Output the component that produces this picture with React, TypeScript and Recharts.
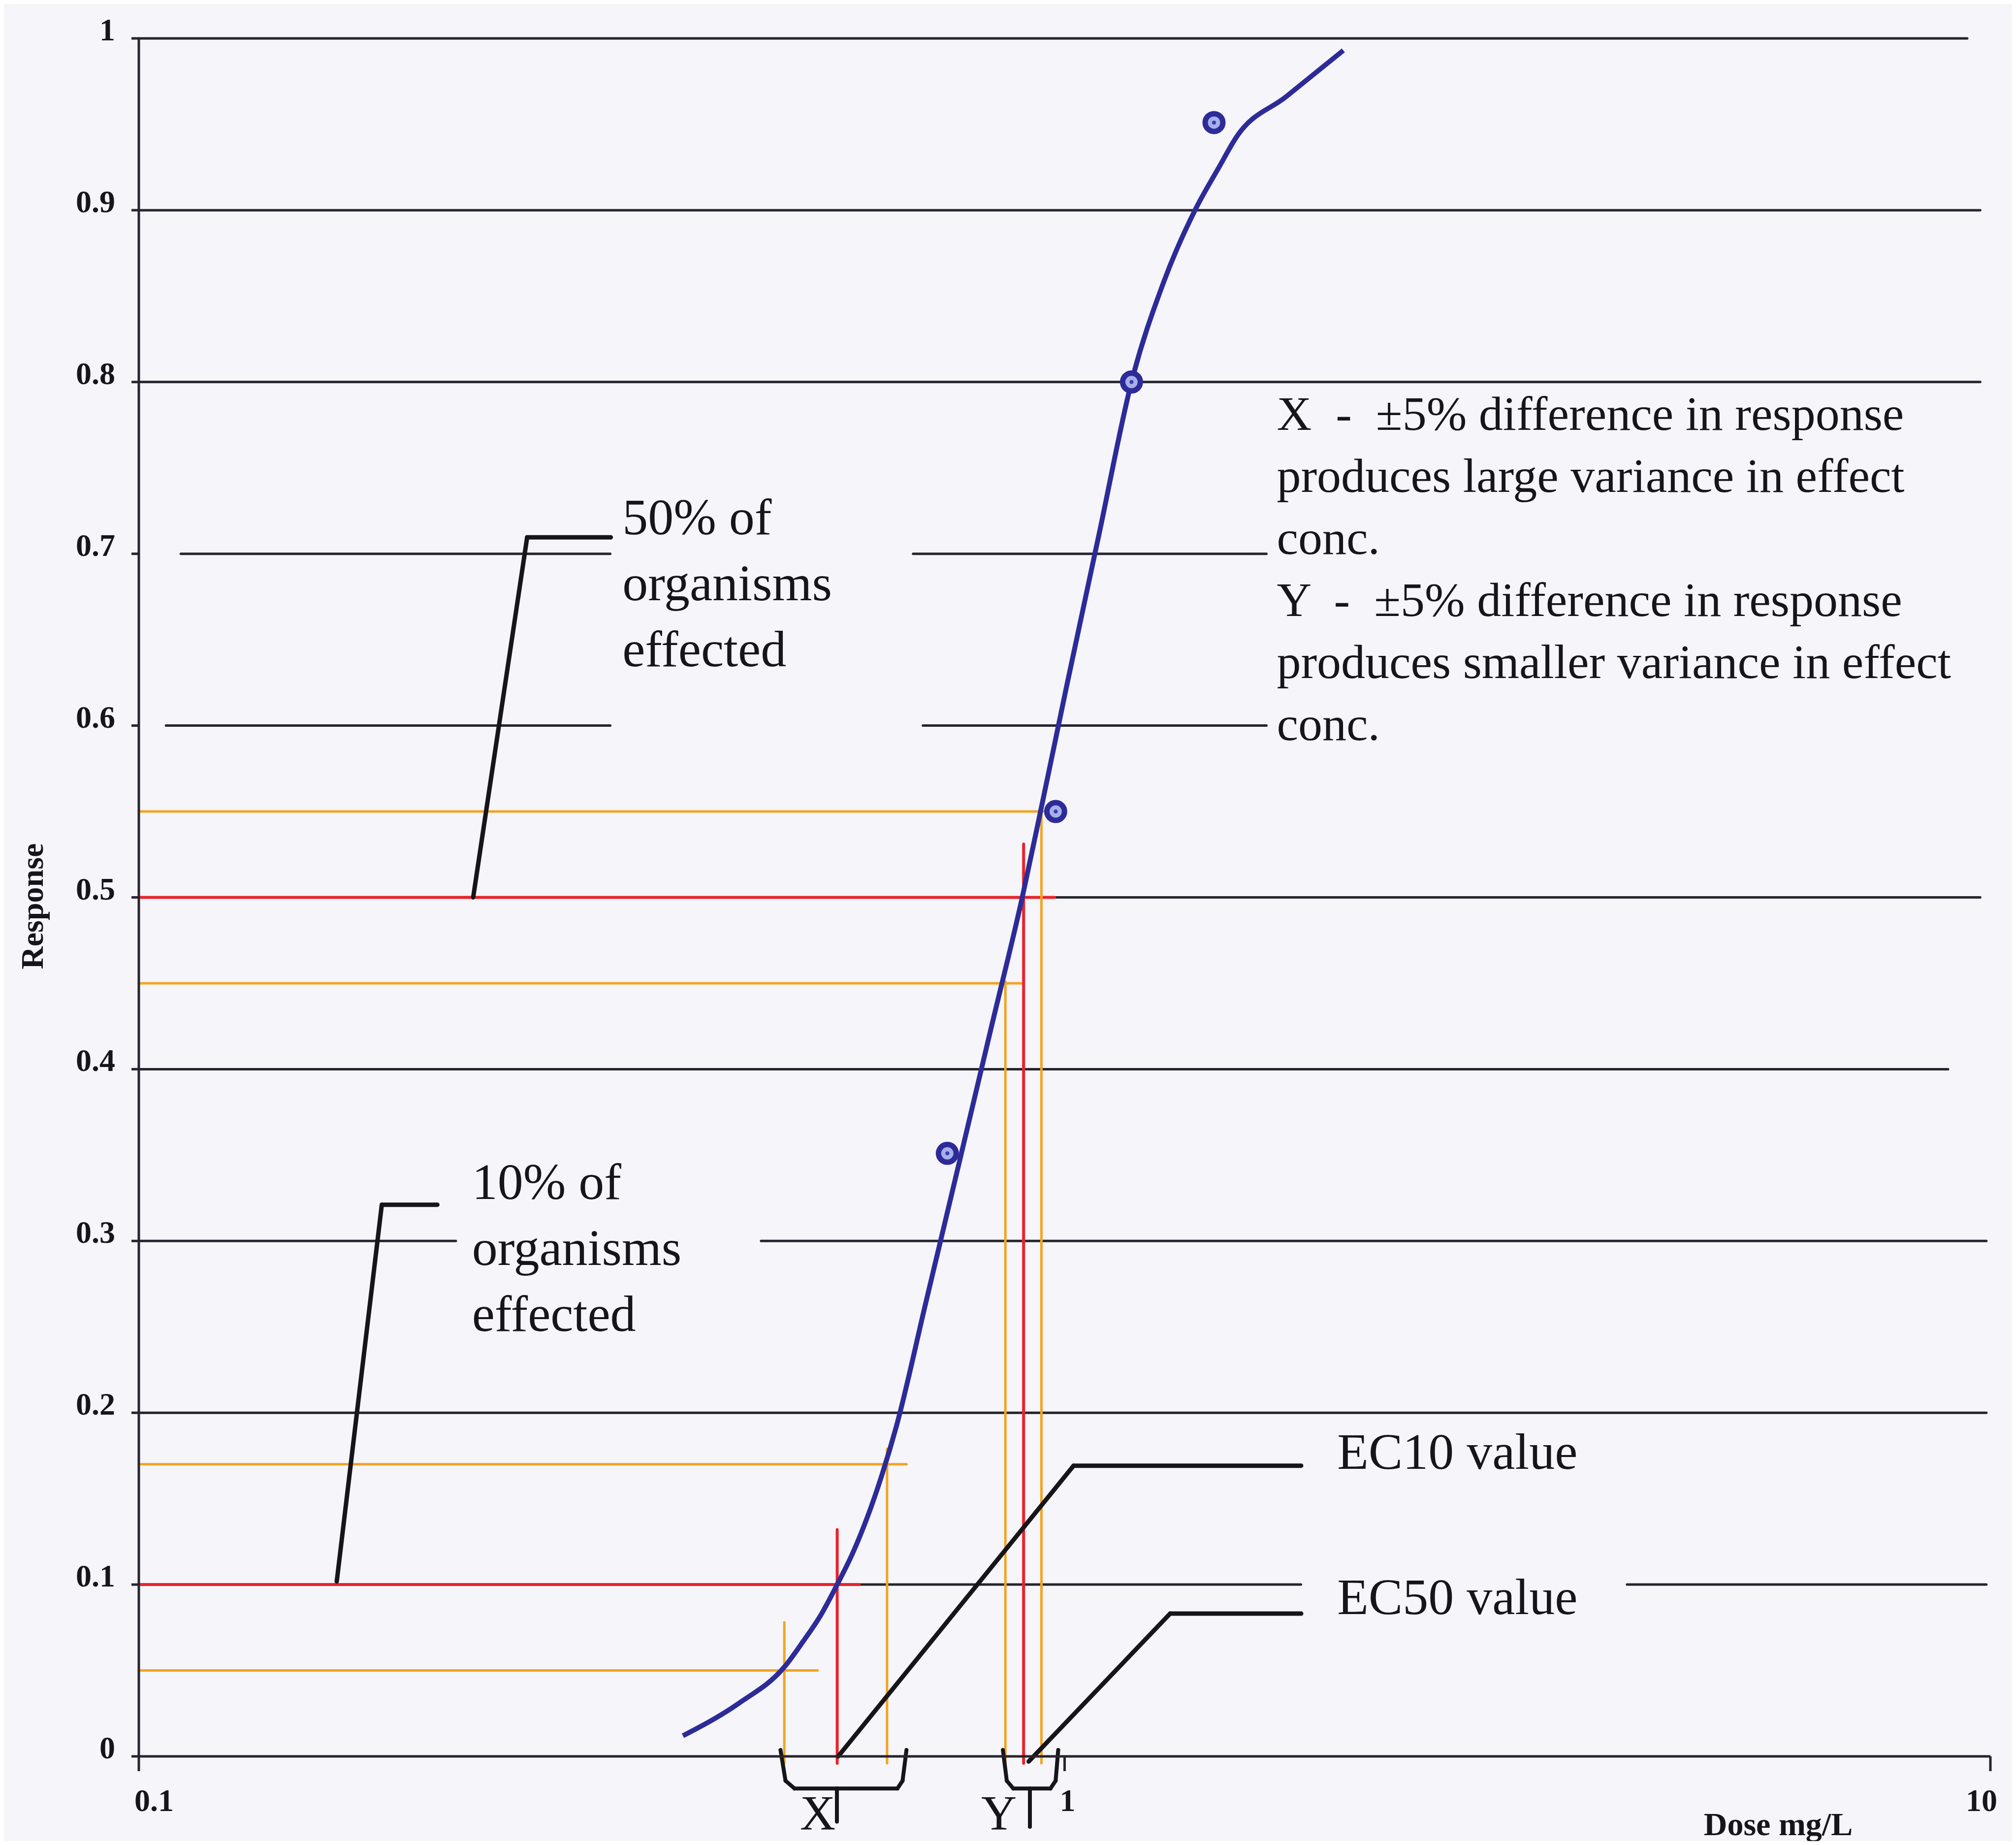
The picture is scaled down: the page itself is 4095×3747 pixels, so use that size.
import React from "react";
import { ComposedChart, Line, XAxis, YAxis, ReferenceLine, ReferenceDot } from "recharts";

// fitted dose-response curve (dose mg/L, response)
const curveDose = [0.387, 0.445, 0.498, 0.522, 0.545, 0.568, 0.59, 0.613, 0.635, 0.658, 0.708, 0.772, 0.833, 0.9, 0.941, 1.006, 1.09, 1.181, 1.279, 1.386, 1.468, 1.535, 1.734, 2.0];
const curveResponse = [0.012, 0.031, 0.052, 0.067, 0.082, 0.1, 0.118, 0.14, 0.164, 0.192, 0.264, 0.349, 0.424, 0.5, 0.549, 0.624, 0.712, 0.8, 0.858, 0.901, 0.925, 0.943, 0.966, 0.993];

// measured responses
const obsDose = [0.747, 0.978, 1.181, 1.45];
const obsResponse = [0.351, 0.55, 0.8, 0.951];

const yTicks = [0, 0.1, 0.2, 0.3, 0.4, 0.5, 0.6, 0.7, 0.8, 0.9, 1];
const xTicks = [0.1, 1, 10];

// horizontal read-off lines: response level and the dose where each stops
const readLevels = [0.55, 0.5, 0.45, 0.17, 0.1, 0.05];
const readEnds = [0.95, 0.975, 0.9, 0.675, 0.6, 0.541];
const readIsEc = [false, true, false, false, true, false];

// drops from the curve down to the dose axis
const dropDose = [0.863, 0.903, 0.944, 0.498, 0.568, 0.643];
const dropFrom = [0.451, 0.531, 0.55, 0.078, 0.132, 0.179];
const dropIsEc = [false, true, false, false, true, false];

// ---- layout ----
const W = 4095;
const H = 3747;
const serif = "'Liberation Serif', 'Times New Roman', Times, serif";
const ink = "#15151a";
const gridInk = "#26252f";
const bandOrange = "#f2a41f";
const ecRed = "#e9232a";
const curveBlue = "#2c2b98";

type Pt = [number, number];

// gridline runs [level, from, to]; broken where the text boxes sit
const gridRuns: [number, number, number][] = [
  [1, 0.1, 9.44],
  [0.9, 0.1, 9.75],
  [0.8, 0.1, 9.75],
  [0.7, 0.111, 0.323],
  [0.7, 0.686, 1.652],
  [0.6, 0.107, 0.323],
  [0.6, 0.703, 1.652],
  [0.5, 0.975, 9.75],
  [0.4, 0.1, 9.0],
  [0.3, 0.1, 0.22],
  [0.3, 0.47, 9.9],
  [0.2, 0.1, 9.9],
  [0.1, 0.6, 1.8],
  [0.1, 4.05, 9.9],
];

// callout leader lines
const leaders: Pt[][] = [
  [[0.2297, 0.5], [0.2627, 0.7096], [0.3234, 0.7096]],
  [[0.1636, 0.1018], [0.183, 0.3211], [0.2101, 0.3211]],
  [[0.5694, 0.0], [1.0226, 0.1692], [1.801, 0.1692]],
  [[0.9145, -0.003], [1.3, 0.0831], [1.801, 0.0831]],
];

// braces under the axis marking the X and Y spreads
const braces: Pt[][] = [
  [[0.4933, 0.0037], [0.4995, -0.0142], [0.5108, -0.0187], [0.5676, -0.0187], [0.5676, -0.038]],
  [[0.5676, -0.0187], [0.6598, -0.0187], [0.6683, -0.0142], [0.6748, 0.0037]],
  [[0.8577, 0.0037], [0.866, -0.0142], [0.8801, -0.0187], [0.9173, -0.0187], [0.9173, -0.041]],
  [[0.9173, -0.0187], [0.9654, -0.0187], [0.9779, -0.0142], [0.9842, 0.0037]],
];

const notes = [
  {
    at: [1.695, 0.7721] as Pt,
    size: 98,
    gap: 126,
    lines: [
      "X  -  ±5% difference in response",
      "produces large variance in effect",
      "conc.",
      "Y  -  ±5% difference in response",
      "produces smaller variance in effect",
      "conc.",
    ],
  },
  { at: [0.3329, 0.7115] as Pt, size: 104, gap: 134, lines: ["50% of", "organisms", "effected"] },
  { at: [0.229, 0.3245] as Pt, size: 104, gap: 134, lines: ["10% of", "organisms", "effected"] },
  { at: [1.97, 0.1673] as Pt, size: 104, gap: 0, lines: ["EC10 value"] },
  { at: [1.97, 0.0827] as Pt, size: 104, gap: 0, lines: ["EC50 value"] },
];

const braceLetters = [
  { at: [0.5412, -0.0425] as Pt, text: "X" },
  { at: [0.8494, -0.0425] as Pt, text: "Y" },
];

const curveData = curveDose.map((d, i) => ({ dose: d, resp: curveResponse[i] }));
const obsData = obsDose.map((d, i) => ({ dose: d, resp: obsResponse[i] }));

const segmentsOf = (pts: Pt[]) => pts.slice(1).map((p, i) => [pts[i], p] as [Pt, Pt]);

const textShape = (lines: string[], size: number, gap: number, anchor: "start" | "middle" = "start") =>
  (p: any) => (
    <text
      x={p.cx}
      y={p.cy}
      fontFamily={serif}
      fontSize={size}
      fill={ink}
      textAnchor={anchor}
      style={{ whiteSpace: "pre" }}
    >
      {lines.map((t, i) => (
        <tspan key={i} x={p.cx} dy={i === 0 ? 0 : gap}>
          {t}
        </tspan>
      ))}
    </text>
  );

const Ring = (props: any) => {
  const { cx, cy, index } = props;
  return (
    <g key={`ring-${index}`}>
      <circle cx={cx} cy={cy} r={18} fill="#a7afea" stroke={curveBlue} strokeWidth={11} />
      <circle cx={cx} cy={cy} r={4} fill="#3a3dac" />
    </g>
  );
};

const YTick = (props: any) => {
  const { x, y, payload } = props;
  return (
    <text x={x} y={y} dy={4} textAnchor="end" fontFamily={serif} fontWeight="bold" fontSize={64} fill={ink}>
      {String(payload.value)}
    </text>
  );
};

const XTick = (props: any) => {
  const { x, y, payload, index } = props;
  const dx = index === 0 ? 31 : index === xTicks.length - 1 ? -18 : 6;
  return (
    <text x={x + dx} y={y} dy={71} textAnchor="middle" fontFamily={serif} fontWeight="bold" fontSize={64} fill={ink}>
      {String(payload.value)}
    </text>
  );
};

const seg = (key: string, a: Pt, b: Pt, stroke: string, width: number) => (
  <ReferenceLine
    key={key}
    segment={[
      { x: a[0], y: a[1] },
      { x: b[0], y: b[1] },
    ]}
    stroke={stroke}
    strokeWidth={width}
    strokeLinecap="round"
    ifOverflow="visible"
  />
);

export default function App() {
  return (
    <div style={{ margin: -8, width: W, height: H, background: "#f5f5fa" }}>
      <ComposedChart width={W} height={H} margin={{ top: 78, right: 52, bottom: 60, left: 82 }}>
        <XAxis
          dataKey="dose"
          type="number"
          scale="log"
          domain={[0.1, 10]}
          ticks={xTicks}
          tick={XTick}
          tickSize={30}
          tickMargin={10}
          height={120}
          stroke={gridInk}
          strokeWidth={5}
          label={{
            content: (p: any) => (
              <text
                x={p.viewBox.x + p.viewBox.width - 431}
                y={p.viewBox.y + 160}
                textAnchor="middle"
                fontFamily={serif}
                fontWeight="bold"
                fontSize={66}
                fill={ink}
              >
                Dose mg/L
              </text>
            ),
          }}
        />
        <YAxis
          type="number"
          domain={[0, 1]}
          ticks={yTicks}
          tick={YTick}
          tickSize={15}
          tickMargin={33}
          width={200}
          stroke={gridInk}
          strokeWidth={5}
          label={{
            content: (p: any) => {
              const cx = p.viewBox.x - 17;
              const cy = p.viewBox.y + p.viewBox.height / 2 + 18;
              return (
                <text
                  x={cx}
                  y={cy}
                  transform={`rotate(-90 ${cx} ${cy})`}
                  textAnchor="middle"
                  dominantBaseline="central"
                  fontFamily={serif}
                  fontWeight="bold"
                  fontSize={64}
                  fill={ink}
                >
                  Response
                </text>
              );
            },
          }}
        />

        {gridRuns.map(([lvl, from, to], i) => seg(`grid-${i}`, [from, lvl], [to, lvl], gridInk, 5))}

        {readLevels.map((lvl, i) =>
          seg(`read-${i}`, [0.1, lvl], [readEnds[i], lvl], readIsEc[i] ? ecRed : bandOrange, readIsEc[i] ? 6 : 5)
        )}
        {dropDose.map((d, i) =>
          seg(`drop-${i}`, [d, dropFrom[i]], [d, -0.004], dropIsEc[i] ? ecRed : bandOrange, dropIsEc[i] ? 6 : 5)
        )}

        <Line
          data={curveData}
          dataKey="resp"
          type="monotone"
          stroke={curveBlue}
          strokeWidth={10}
          dot={false}
          isAnimationActive={false}
        />
        <Line
          data={obsData}
          dataKey="resp"
          stroke="none"
          strokeWidth={0}
          dot={Ring}
          activeDot={false}
          isAnimationActive={false}
        />

        {leaders.flatMap((pts, li) => segmentsOf(pts).map(([a, b], si) => seg(`lead-${li}-${si}`, a, b, ink, 9)))}
        {braces.flatMap((pts, bi) => segmentsOf(pts).map(([a, b], si) => seg(`brace-${bi}-${si}`, a, b, ink, 8)))}

        {notes.map((n, i) => (
          <ReferenceDot
            key={`note-${i}`}
            x={n.at[0]}
            y={n.at[1]}
            r={0}
            ifOverflow="visible"
            shape={textShape(n.lines, n.size, n.gap)}
          />
        ))}
        {braceLetters.map((b, i) => (
          <ReferenceDot
            key={`letter-${i}`}
            x={b.at[0]}
            y={b.at[1]}
            r={0}
            ifOverflow="visible"
            shape={textShape([b.text], 100, 0, "middle")}
          />
        ))}
      </ComposedChart>
    </div>
  );
}
